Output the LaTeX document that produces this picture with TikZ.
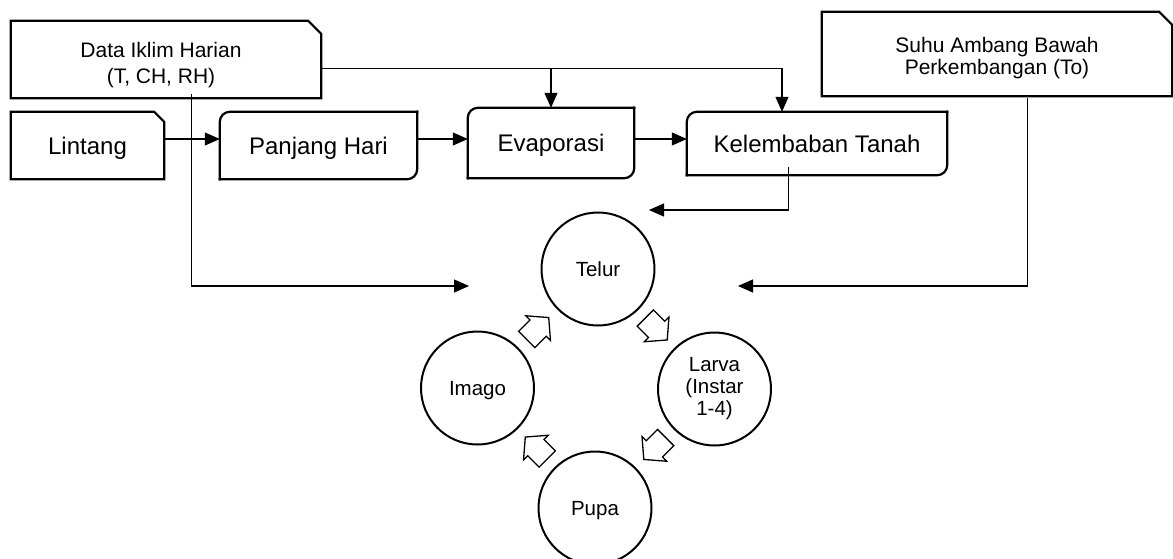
\documentclass[tikz,border=0pt]{standalone}
\usepackage{fontspec}
\setmainfont{Liberation Sans}
\usetikzlibrary{arrows.meta,calc}

\begin{document}
\begin{tikzpicture}[x=1pt, y=-1pt, >={Triangle[length=15pt,width=13pt]},
  box/.style={inner sep=0pt, align=center, text height=17.2pt, text depth=0pt, font=\fontsize{24}{28}\selectfont},
  inbox/.style={inner sep=0pt, align=center, text depth=0pt, font=\fontsize{21}{25}\selectfont},
  stage/.style={circle, draw, line width=2pt, minimum size=113pt, inner sep=0pt, align=center, font=\fontsize{20.5}{22}\selectfont},
  capc/.style={text height=14.7pt, text depth=0pt},
  conn/.style={line width=1.2pt},
  edge/.style={line width=2.2pt, line cap=rect},
  cyc/.pic={\draw[line width=1.3pt, line join=miter] (-15.5,-11.5) -- (0.5,-11.5) -- (0.5,-17.5) -- (15.5,0) -- (0.5,17.5) -- (0.5,11.5) -- (-15.5,11.5) -- cycle;}]
\useasboundingbox (0,0) rectangle (1173,558);

% input boxes
\node[inbox, text height=47.6pt, minimum width=310pt, minimum height=77pt] (data) at (166,59.5) {Data Iklim Harian\hspace*{10pt}\\[1pt](T, CH, RH)\hspace*{10pt}};
\node[box, minimum width=153pt, minimum height=67pt] (lintang) at (87.5,145.5) {Lintang};
\node[inbox, text height=40pt, minimum width=350pt, minimum height=84pt] (suhu) at (997,54) {Suhu Ambang Bawah\\[-3.5pt]Perkembangan (To)};
\foreach \n/\c in {data/13, lintang/10, suhu/13}
  \draw[edge] (\n.south west) -- (\n.north west) -- ([xshift=-\c pt]\n.north east) -- ([yshift=-\c pt]\n.north east) -- (\n.south east) -- cycle;

% process boxes
\node[box, minimum width=197pt, minimum height=67pt] (panjang) at (318.5,145.5) {Panjang Hari};
\node[box, minimum width=166pt, minimum height=70pt] (evap) at (551,143) {Evaporasi};
\node[box, minimum width=260pt, minimum height=63pt] (kelem) at (817,143.5) {Kelembaban Tanah};
\foreach \n in {panjang, evap, kelem} {
  \draw[edge, rounded corners=10pt] (\n.south west) -- (\n.north west) -- (\n.north east);
  \draw[edge, rounded corners=10pt] (\n.north east) -- (\n.south east) -- (\n.south west);
}

% life cycle
\node[stage, capc] (telur) at (598,269) {Telur};
\node[stage] (larva) at (714.5,389) {Larva\\(Instar\\1-4)};
\node[stage, capc] (pupa) at (595,508) {Pupa};
\node[stage, capc] (imago) at (477.5,388) {Imago};
\pic[rotate=45] at ($(imago)!0.5!(telur)$) {cyc};
\pic[rotate=-45] at ($(telur)!0.5!(larva)$) {cyc};
\pic[rotate=-135] at ($(larva)!0.5!(pupa)$) {cyc};
\pic[rotate=135] at ($(pupa)!0.5!(imago)$) {cyc};

% connectors
\draw[conn,->] ([yshift=-9pt]data.east) coordinate (iklim) -| ([xshift=-35pt]kelem.north);
\draw[conn,->] (iklim -| evap.north) -- (evap.north);
\draw[conn,->] ([yshift=6.5pt]lintang.east) coordinate (row) -- (row -| panjang.west);
\draw[conn,->] (row -| panjang.east) -- (row -| evap.west);
\draw[conn,->] (row -| evap.east) -- (row -| kelem.west);

\coordinate (toW) at (469,286);
\coordinate (toE) at (738,286);
\coordinate (toN) at (649,210);
\draw[conn,->] ($(data.south west)+(181,-4)$) |- (toW);
\draw[conn,->] ($(kelem.south west)+(102,-8)$) |- (toN);
\draw[conn,->] ($(suhu.south west)+(206,2)$) |- (toE);
\end{tikzpicture}
\end{document}
